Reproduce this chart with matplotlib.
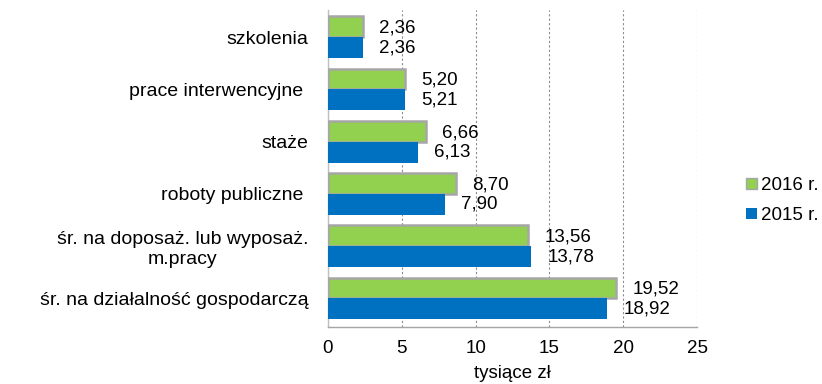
"""Horizontal bar chart of average cost per participant by activation form."""

import matplotlib

matplotlib.use("Agg")
import matplotlib.pyplot as plt
import numpy as np
from matplotlib.patches import Patch

plt.rcParams["font.family"] = ["Liberation Sans", "DejaVu Sans"]

# bottom to top
categories = [
    "śr. na działalność gospodarczą",
    "śr. na doposaż. lub wyposaż.\nm.pracy",
    "roboty publiczne ",
    "staże",
    "prace interwencyjne ",
    "szkolenia",
]
values_2016 = [19.52, 13.56, 8.70, 6.66, 5.20, 2.36]
values_2015 = [18.92, 13.78, 7.90, 6.13, 5.21, 2.36]
series_labels = ["2016 r.", "2015 r."]
x_ticks = [0, 5, 10, 15, 20, 25]
x_label = "tysiące zł"

GREEN = "#92D050"
BLUE = "#0070C0"
EDGE = "#A6A6A6"
FONT_SIZE = 13.5
CAT_SIZE = 14


def fmt(value):
    return f"{value:.2f}".replace(".", ",")


fig = plt.figure(figsize=(8.22, 3.84), dpi=100)
ax = fig.add_axes([0.399, 0.148, 0.449, 0.826])

pos = np.arange(len(categories))
height = 0.4
ax.barh(pos + height / 2, values_2016, height=height, color=GREEN,
        edgecolor=EDGE, linewidth=1.8, zorder=3)
ax.barh(pos - height / 2, values_2015, height=height, color=BLUE,
        edgecolor="none", zorder=3)

for y, v in zip(pos + height / 2, values_2016):
    ax.annotate(fmt(v), (v, y), xytext=(11.5, -1), textcoords="offset points",
                ha="left", va="center", fontsize=FONT_SIZE)
for y, v in zip(pos - height / 2, values_2015):
    ax.annotate(fmt(v), (v, y), xytext=(11.5, 0), textcoords="offset points",
                ha="left", va="center", fontsize=FONT_SIZE)

ax.set_xlim(0, 25)
ax.set_ylim(-0.55, len(categories) - 0.48)
ax.set_xticks(x_ticks)
ax.set_xticklabels([str(t) for t in x_ticks], fontsize=FONT_SIZE)
ax.set_yticks(pos)
ax.set_yticklabels(categories, fontsize=CAT_SIZE, multialignment="center")
ax.tick_params(axis="both", length=0)
ax.tick_params(axis="y", pad=14)
ax.tick_params(axis="x", pad=9)
ax.set_xlabel(x_label, fontsize=FONT_SIZE, labelpad=6)

ax.grid(axis="x", color="#8C8C8C", linestyle=(0, (2, 2)), linewidth=0.8, zorder=0)
for side in ("top", "right"):
    ax.spines[side].set_visible(False)
ax.spines["left"].set_color("#BFBFBF")
ax.spines["bottom"].set_color("#A6A6A6")
ax.spines["left"].set_linewidth(1.0)
ax.spines["bottom"].set_linewidth(1.0)

handles = [
    Patch(facecolor=GREEN, edgecolor=EDGE, linewidth=1.0),
    Patch(facecolor=BLUE, edgecolor="none"),
]
fig.legend(handles, series_labels, loc="center left",
           bbox_to_anchor=(0.899, 0.478), frameon=False, fontsize=FONT_SIZE,
           handlelength=0.55, handleheight=0.55, handletextpad=0.2,
           labelspacing=0.7, borderaxespad=0)

fig.savefig("out.png", dpi=100)
